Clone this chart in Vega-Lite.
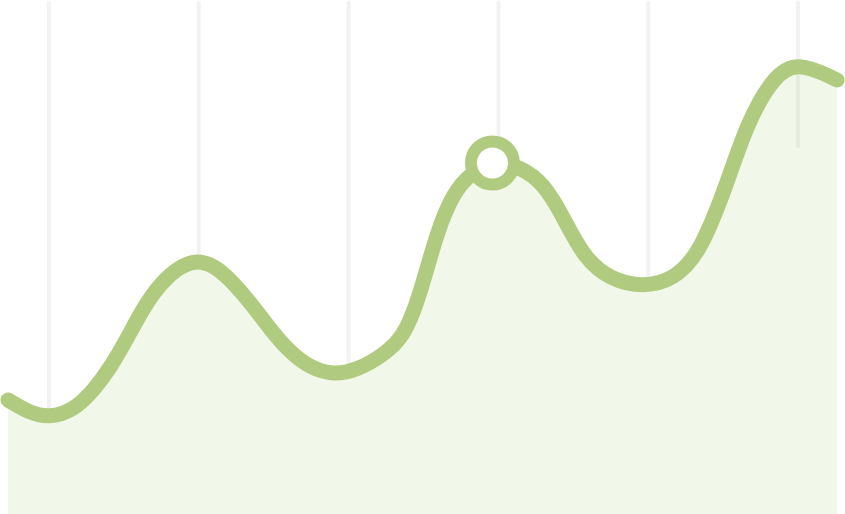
{
  "$schema": "https://vega.github.io/schema/vega-lite/v6.json",
  "width": 845,
  "height": 514,
  "autosize": {"type": "fit", "contains": "padding"},
  "padding": 0,
  "background": "#ffffff",
  "datasets": {
    "series": [
      {"t": 0.727, "v": 22.18},
      {"t": 0.86, "v": 19.84},
      {"t": 1.0, "v": 18.68},
      {"t": 1.167, "v": 20.23},
      {"t": 1.3, "v": 24.12},
      {"t": 1.413, "v": 28.6},
      {"t": 1.527, "v": 34.44},
      {"t": 1.633, "v": 40.27},
      {"t": 1.747, "v": 44.94},
      {"t": 1.86, "v": 47.86},
      {"t": 1.973, "v": 49.42},
      {"t": 2.1, "v": 48.44},
      {"t": 2.213, "v": 45.53},
      {"t": 2.347, "v": 41.05},
      {"t": 2.48, "v": 35.8},
      {"t": 2.613, "v": 31.32},
      {"t": 2.747, "v": 28.4},
      {"t": 2.9, "v": 27.04},
      {"t": 3.06, "v": 28.02},
      {"t": 3.233, "v": 30.93},
      {"t": 3.367, "v": 34.44},
      {"t": 3.467, "v": 41.63},
      {"t": 3.593, "v": 55.25},
      {"t": 3.7, "v": 62.45},
      {"t": 3.813, "v": 66.34},
      {"t": 3.98, "v": 68.68},
      {"t": 4.147, "v": 67.51},
      {"t": 4.3, "v": 64.4},
      {"t": 4.433, "v": 57.78},
      {"t": 4.567, "v": 50.0},
      {"t": 4.747, "v": 45.53},
      {"t": 4.967, "v": 44.16},
      {"t": 5.167, "v": 45.53},
      {"t": 5.347, "v": 50.78},
      {"t": 5.527, "v": 64.4},
      {"t": 5.66, "v": 76.07},
      {"t": 5.833, "v": 85.02},
      {"t": 5.993, "v": 88.13},
      {"t": 6.26, "v": 84.44}
    ],
    "grid": [
      {"t": 1, "top": 99.4, "bottom": 18.5},
      {"t": 2, "top": 99.4, "bottom": 49.6},
      {"t": 3, "top": 99.4, "bottom": 28.0},
      {"t": 4, "top": 99.4, "bottom": 68.5},
      {"t": 5, "top": 99.4, "bottom": 44.2},
      {"t": 6, "top": 99.4, "bottom": 71.6}
    ],
    "marker": [
      {"t": 3.96, "v": 68.29}
    ]
  },
  "layer": [
    {
      "data": {"name": "grid"},
      "mark": {"type": "rule", "color": "#f2f2f2", "strokeWidth": 4, "strokeCap": "round"},
      "encoding": {
        "x": {"field": "t", "type": "quantitative", "scale": {"domain": [0.68, 6.313], "nice": false, "zero": false}, "axis": null},
        "y": {"field": "top", "type": "quantitative", "scale": {"domain": [0, 100], "nice": false}, "axis": null},
        "y2": {"field": "bottom"}
      }
    },
    {
      "data": {"name": "series"},
      "mark": {"type": "area", "interpolate": "basis", "color": "#b9dc91", "opacity": 0.2},
      "encoding": {
        "x": {"field": "t", "type": "quantitative"},
        "y": {"field": "v", "type": "quantitative"},
        "y2": {"datum": 0}
      }
    },
    {
      "data": {"name": "series"},
      "mark": {"type": "line", "interpolate": "basis", "color": "#b0cb80", "strokeWidth": 15, "strokeCap": "round", "strokeJoin": "round"},
      "encoding": {
        "x": {"field": "t", "type": "quantitative"},
        "y": {"field": "v", "type": "quantitative"}
      }
    },
    {
      "data": {"name": "marker"},
      "mark": {"type": "point", "shape": "circle", "filled": true, "fill": "#ffffff", "stroke": "#b0cb80", "strokeWidth": 12, "size": 1849, "opacity": 1},
      "encoding": {
        "x": {"field": "t", "type": "quantitative"},
        "y": {"field": "v", "type": "quantitative"}
      }
    }
  ],
  "config": {
    "view": {"stroke": null}
  }
}
